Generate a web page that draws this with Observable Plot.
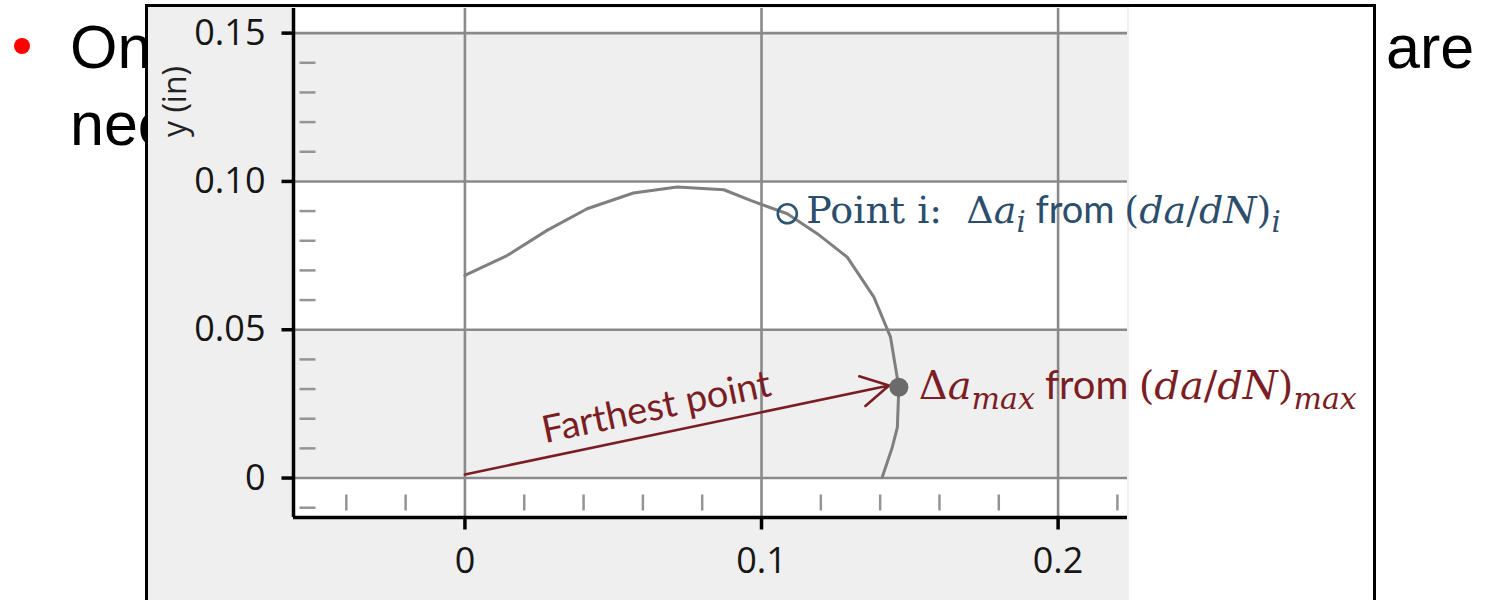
<!DOCTYPE html>
<html>
<head>
<meta charset="utf-8">
<script src="https://cdn.jsdelivr.net/npm/d3@7"></script>
<script src="https://cdn.jsdelivr.net/npm/@observablehq/plot@0.6"></script>
<style>
  html, body { margin: 0; padding: 0; background: #fff; }
  body { width: 1490px; height: 600px; overflow: hidden; position: relative; font-family: "Liberation Sans", Arial, sans-serif; }
  .slide { position: absolute; font-size: 61px; line-height: 60px; color: #000; white-space: pre; }
  .bullet { position: absolute; left: 14px; top: 38px; width: 16px; height: 16px; border-radius: 50%; background: #ff0000; }
  #frame { position: absolute; left: 145px; top: 4px; width: 1225px; height: 620px; border: 3px solid #000; background: #fff; overflow: hidden; }
  #panel { position: absolute; left: 0; top: 0; width: 981px; height: 100%; background: #efefef; }
  #chart { position: absolute; left: 0; top: 0; }
</style>
</head>
<body>
<div class="bullet"></div>
<div class="slide" style="left:70px; top:17px;">On</div>
<div class="slide" style="left:70px; top:94px;">nee</div>
<div class="slide" style="left:1386px; top:17px;">are</div>
<div id="frame">
  <div id="panel"></div>
  <div id="chart"></div>
</div>
<script>
// ---- data ----
const curveX = [0, 0.0142, 0.0277, 0.0412, 0.0568, 0.0716, 0.0873, 0.0963, 0.1087, 0.1188, 0.1289, 0.1379, 0.1435, 0.1463, 0.1458, 0.1441, 0.1407];
const curveY = [0.0683, 0.0750, 0.0835, 0.0908, 0.0961, 0.0981, 0.0972, 0.0936, 0.0891, 0.0824, 0.0745, 0.0610, 0.0475, 0.0306, 0.0171, 0.0104, 0.0003];
const pointI = {x: 0.1087, y: 0.0891};
const pointMax = {x: 0.1463, y: 0.0306};
const arrowFrom = {x: 0, y: 0.0012};
const arrowTo = {x: 0.1430, y: 0.0312};
const farthestLabel = {x: 0.0646, y: 0.0238, text: "Farthest point"};

const xMajor = [0, 0.1, 0.2];
const xTickLabels = ["0", "0.1", "0.2"];
const xMinor = [-0.04, -0.02, 0.02, 0.04, 0.06, 0.08, 0.12, 0.14, 0.16, 0.18, 0.22];
const yMajor = [0, 0.05, 0.10, 0.15];
const yTickLabels = ["0", "0.05", "0.10", "0.15"];
const yMinor = [-0.01, 0.01, 0.02, 0.03, 0.04, 0.06, 0.07, 0.08, 0.09, 0.11, 0.12, 0.13, 0.14];
const xDomain = [-0.0578, 0.2234];
const yDomain = [-0.0133, 0.1583];
const whiteBandLow = [yDomain[0], 0.05, 0.15];
const whiteBandHigh = [0, 0.10, yDomain[1]];
const yLabel = "y (in)";

const labelIParts = [
  {t: "Point i:  "}, {t: "Δ"}, {t: "a", i: true}, {t: "i", i: true, sub: true},
  {t: " from ", sans: true},
  {t: "("}, {t: "da", i: true}, {t: "/"}, {t: "dN", i: true}, {t: ")"}, {t: "i", i: true, sub: true}
];
const labelMaxParts = [
  {t: "Δ"}, {t: "a", i: true}, {t: "max", i: true, sub: true},
  {t: " from ", sans: true},
  {t: "("}, {t: "da", i: true}, {t: "/"}, {t: "dN", i: true}, {t: ")"}, {t: "max", i: true, sub: true}
];

// ---- derived tables ----
const curve = curveX.map((x, k) => ({x, y: curveY[k]}));
const bands = whiteBandLow.map((lo, k) => ({lo, hi: whiteBandHigh[k]}));
const hTick = {draw(ctx, size) { const r = Math.sqrt(size / Math.PI); ctx.moveTo(-r, 0); ctx.lineTo(r, 0); }};
const vTick = {draw(ctx, size) { const r = Math.sqrt(size / Math.PI); ctx.moveTo(0, -r); ctx.lineTo(0, r); }};

const GRID = "#8a8a8a";
const MINOR = "#949494";
const BLUE = "#2c4d6c";
const RED = "#7a1e24";
const INK = "#161616";

const svg = Plot.plot({
  width: 1225,
  height: 615,
  marginLeft: 145,
  marginRight: 246,
  marginTop: 1,
  marginBottom: 105,
  style: {background: "transparent", overflow: "visible", fontFamily: "'Open Sans', sans-serif"},
  x: {domain: xDomain, axis: null},
  y: {domain: yDomain, axis: null},
  marks: [
    Plot.rect(bands, {x1: xDomain[0], x2: xDomain[1], y1: "lo", y2: "hi", fill: "#ffffff"}),
    Plot.ruleY(yMajor, {stroke: GRID, strokeWidth: 2.6}),
    Plot.ruleX(xMajor, {stroke: GRID, strokeWidth: 2.6}),
    Plot.dot(yMinor, {y: d => d, frameAnchor: "left", symbol: hTick, r: 8, dx: 14, fill: "none", stroke: MINOR, strokeWidth: 2.5}),
    Plot.dot(xMinor, {x: d => d, frameAnchor: "bottom", symbol: vTick, r: 8, dy: -15, fill: "none", stroke: MINOR, strokeWidth: 2.5}),
    Plot.ruleX([xDomain[0]], {stroke: "#000", strokeWidth: 3.5}),
    Plot.ruleY([yDomain[0]], {stroke: "#000", strokeWidth: 3.5}),
    // major ticks
    Plot.dot(yMajor, {y: d => d, frameAnchor: "left", symbol: hTick, r: 6, dx: -6, fill: "none", stroke: "#000", strokeWidth: 3.5}),
    Plot.dot(xMajor, {x: d => d, frameAnchor: "bottom", symbol: vTick, r: 6, dy: 6, fill: "none", stroke: "#000", strokeWidth: 3.5}),
    // tick labels
    Plot.text(yMajor, {y: d => d, frameAnchor: "left", text: (d, i) => yTickLabels[i], dx: -28, textAnchor: "end", lineAnchor: "middle", fontSize: 36, fill: INK}),
    Plot.text(xMajor, {x: d => d, frameAnchor: "bottom", text: (d, i) => xTickLabels[i], dy: 30, textAnchor: "middle", lineAnchor: "top", fontSize: 36, fill: INK}),
    Plot.text([yLabel], {text: d => d, frameAnchor: "top-left", dx: -118, dy: 93, rotate: -90, textAnchor: "middle", lineAnchor: "middle", fontSize: 32, fill: "#222"}),
    Plot.line(curve, {x: "x", y: "y", stroke: "#7f7f7f", strokeWidth: 3, strokeLinejoin: "round"}),
    Plot.arrow([{from: arrowFrom, to: arrowTo}], {x1: d => d.from.x, y1: d => d.from.y, x2: d => d.to.x, y2: d => d.to.y,
      stroke: RED, strokeWidth: 2.6, headLength: 18, headAngle: 58}),
    Plot.text([farthestLabel], {x: "x", y: "y", text: "text", rotate: -11.8, fontSize: 38, fontFamily: "Lato", fill: RED, textAnchor: "middle", lineAnchor: "middle"}),
    Plot.dot([pointI], {x: "x", y: "y", r: 9.5, fill: "none", stroke: "#2b5575", strokeWidth: 2.6}),
    Plot.dot([pointMax], {x: "x", y: "y", r: 9.5, fill: "#6b6b6b"}),
    Plot.text([pointI], {x: "x", y: "y", text: () => "LABEL_I", dx: 19, dy: -3, textAnchor: "start", lineAnchor: "middle",
      fontSize: 38, fontFamily: "'DejaVu Serif', serif", fill: BLUE}),
    Plot.text([pointMax], {x: "x", y: "y", text: () => "LABEL_MAX", dx: 20, dy: -1, textAnchor: "start", lineAnchor: "middle",
      fontSize: 40, fontFamily: "'DejaVu Serif', serif", fill: RED})
  ]
});
document.getElementById("chart").append(svg);

function rich(placeholder, parts, size) {
  const el = Array.from(svg.querySelectorAll("text")).find(t => t.textContent === placeholder);
  if (!el) return;
  const sel = d3.select(el);
  sel.text(null);
  let shifted = 0;
  for (const p of parts) {
    const ts = sel.append("tspan").text(p.t);
    const want = p.sub ? Math.round(size * 0.24) : 0;
    if (want !== shifted) { ts.attr("dy", want - shifted); shifted = want; }
    if (p.sub) ts.attr("font-size", Math.round(size * 0.75));
    if (p.i) ts.attr("font-style", "italic");
    if (p.sans) ts.attr("font-family", "Lato");
  }
}
rich("LABEL_I", labelIParts, 38);
rich("LABEL_MAX", labelMaxParts, 40);
</script>
</body>
</html>
